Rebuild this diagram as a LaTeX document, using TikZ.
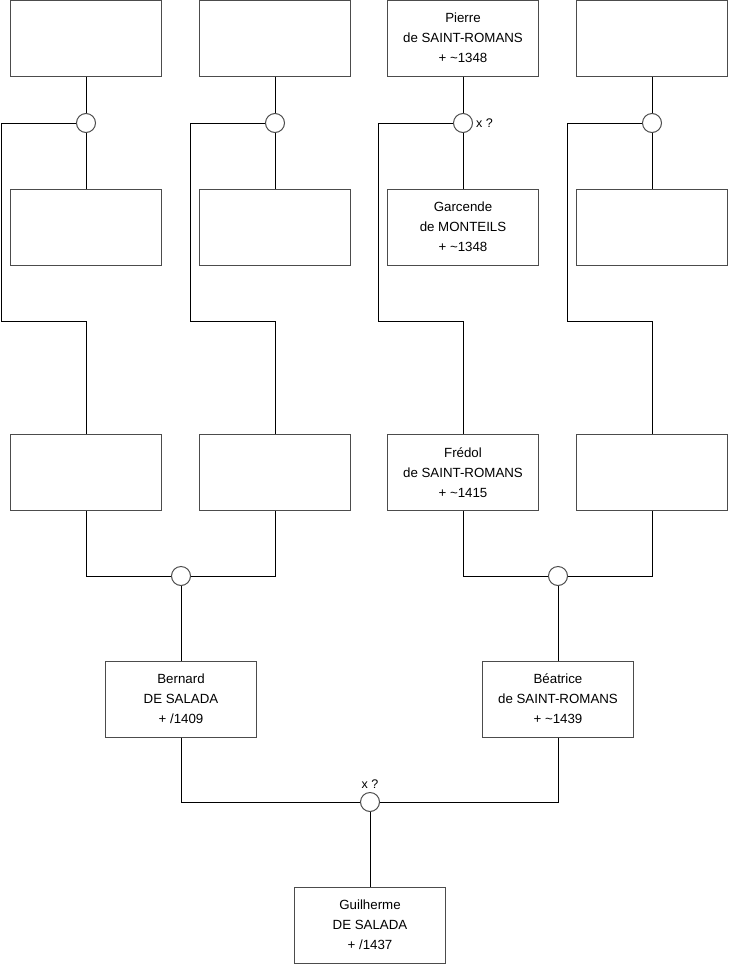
\documentclass[tikz,border=0pt]{standalone}
\usepackage{fontspec}
\setmainfont{Liberation Sans}
\begin{document}
\begin{tikzpicture}[x=1pt,y=-1pt,
  person/.style={draw=black!70,fill=white,line width=1pt,minimum width=151pt,minimum height=76pt,
    inner sep=0pt,align=center,font=\fontsize{13.3}{20}\selectfont},
  union/.style={draw=black!70,fill=white,line width=1pt,circle,minimum size=19pt,inner sep=0pt},
  tag/.style={inner sep=1pt,font=\fontsize{12.5}{14}\selectfont},
  link/.style={line width=1pt}]
  \useasboundingbox (0,0) rectangle (740,975);
  % fathers
  \node[person] (p1) at (86,38) {};
  \node[person] (p2) at (275,38) {};
  \node[person] (p3) at (463,38) {Pierre\\de SAINT-ROMANS\\+ \textasciitilde1348};
  \node[person] (p4) at (652,38) {};
  % mothers
  \node[person] (m1) at (86,227) {};
  \node[person] (m2) at (275,227) {};
  \node[person] (m3) at (463,227) {Garcende\\de MONTEILS\\+ \textasciitilde1348};
  \node[person] (m4) at (652,227) {};
  % unions
  \node[union] (u1) at (86,123) {};
  \node[union] (u2) at (275,123) {};
  \node[union] (u3) at (463,123) {};
  \node[union] (u4) at (652,123) {};
  \node[tag,right=2pt] (x3) at (u3.east) {x ?};
  \draw[link] (p1) -- (u1) -- (m1);
  \draw[link] (p2) -- (u2) -- (m2);
  \draw[link] (p3) -- (u3) -- (m3);
  \draw[link] (p4) -- (u4) -- (m4);
  % grandparents
  \node[person] (f1) at (86,472.5) {};
  \node[person] (f2) at (275,472.5) {};
  \node[person] (f3) at (463,472.5) {Frédol\\de SAINT-ROMANS\\+ \textasciitilde1415};
  \node[person] (f4) at (652,472.5) {};
  \draw[link] (u1.west) -| ++(-75,198) -| (f1.north);
  \draw[link] (u2.west) -| ++(-75,198) -| (f2.north);
  \draw[link] (u3.west) -| ++(-75,198) -| (f3.north);
  \draw[link] (u4.west) -| ++(-75,198) -| (f4.north);
  \node[union] (v1) at (181,576) {};
  \node[union] (v2) at (558,576) {};
  \draw[link] (f1.south) |- (v1.west);
  \draw[link] (f2.south) |- (v1.east);
  \draw[link] (f3.south) |- (v2.west);
  \draw[link] (f4.south) |- (v2.east);
  % parents
  \node[person] (b1) at (181,699) {Bernard\\DE SALADA\\+ /1409};
  \node[person] (b2) at (558,699) {Béatrice\\de SAINT-ROMANS\\+ \textasciitilde1439};
  \draw[link] (v1) -- (b1);
  \draw[link] (v2) -- (b2);
  \node[union] (w) at (370,802) {};
  \node[tag,above=2pt] (xw) at (w.north) {x ?};
  \draw[link] (b1.south) |- (w.west);
  \draw[link] (b2.south) |- (w.east);
  % child
  \node[person] (g) at (370,925) {Guilherme\\DE SALADA\\+ /1437};
  \draw[link] (w) -- (g);
\end{tikzpicture}
\end{document}
